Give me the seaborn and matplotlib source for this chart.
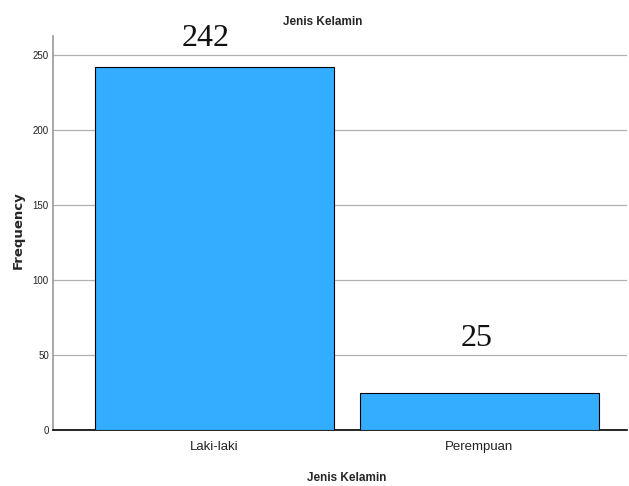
import pandas as pd
import matplotlib.pyplot as plt
import seaborn as sns

# Data
categories = ["Laki-laki", "Perempuan"]
counts = [242, 25]
y_ticks = [0, 50, 100, 150, 200, 250]

df = pd.DataFrame({"Jenis Kelamin": categories, "Frequency": counts})

sns.set_style("white")
plt.rcParams['font.family'] = ['Liberation Sans', 'DejaVu Sans']

fig = plt.figure(figsize=(6.29, 4.86), dpi=100)
ax = fig.add_axes([0.0843, 0.1152, 0.9125, 0.8108])

sns.barplot(data=df, x="Jenis Kelamin", y="Frequency", color="#33adff",
            saturation=1, width=0.9, edgecolor="black", linewidth=0.8, ax=ax, zorder=3)

ax.set_ylim(0, 263)
ax.set_xlim(-0.61, 1.557)
ax.set_yticks(y_ticks)
ax.yaxis.grid(True, color="#b0b0b0", linewidth=0.9, zorder=0)
ax.set_axisbelow(True)

for s in ["top", "right"]:
    ax.spines[s].set_visible(False)
ax.spines["left"].set_color("#999999")
ax.spines["left"].set_linewidth(1.2)
ax.spines["bottom"].set_color("black")
ax.spines["bottom"].set_linewidth(1.2)

ax.tick_params(axis="y", length=0, pad=3, labelsize=7, labelcolor="#222222")
ax.tick_params(axis="x", length=0, pad=8, labelsize=9.5, labelcolor="#222222")

ax.set_xlabel("Jenis Kelamin", fontsize=8.5, fontweight="bold")
ax.xaxis.set_label_coords(0.512, -0.122)
ax.xaxis.label.set_va("center")

ax.set_ylabel("Frequency", fontsize=9.5, fontweight="bold", family="DejaVu Sans")
ax.yaxis.set_label_coords(-0.061, 0.508)
ax.yaxis.label.set_va("center")

ax.set_title("Jenis Kelamin", fontsize=8.5, fontweight="bold", x=0.47, y=1.0355,
             va="center", pad=0)

# Value labels above bars (offsets are label placement only)
label_dx = [-0.032, -0.01]
label_dy = [19, 36]
for i, v in enumerate(counts):
    ax.text(i + label_dx[i], v + label_dy[i], str(v), ha="center", va="center",
            fontsize=23, family="Liberation Serif", color="#111111")

plt.savefig("out.png", dpi=100)
